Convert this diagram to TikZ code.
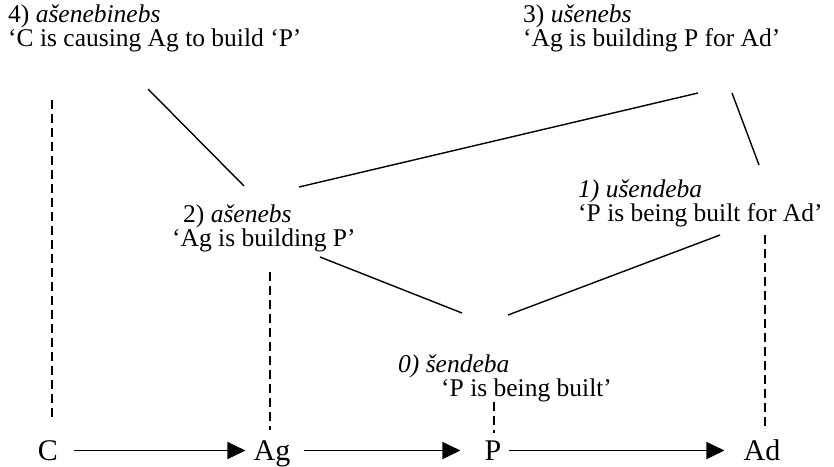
\documentclass[tikz,border=0pt]{standalone}
\usepackage{fontspec}
\setmainfont{Liberation Serif}[
  UprightFont={Liberation Serif},
  ItalicFont={Liberation Serif Italic},
  BoldFont={Liberation Serif Bold}]
\usetikzlibrary{arrows.meta}
\begin{document}
\begin{tikzpicture}[x=1pt,y=-1pt,
  every node/.style={inner sep=0pt},
  block/.style={anchor=north west,align=left,font=\fontsize{25.5}{24}\selectfont},
  role/.style={anchor=base,text height=19pt,text depth=0pt,font=\fontsize{30}{30}\selectfont},
  link/.style={line width=1.4pt},
  trace/.style={line width=1.2pt,dash pattern=on 9pt off 5pt},
  flow/.style={line width=1.4pt,-{Triangle[length=18pt,width=17pt]}}]
\useasboundingbox (0,0) rectangle (834,466);

% verb forms
\node[block] (v4) at (8,5) {4) \textit{ašenebinebs}\\‘C is causing Ag to build ‘P’};
\node[block] (v3) at (523,5) {3) \textit{ušenebs}\\‘Ag is building P for Ad’};
\node[block] (v2) at (172,205) {\hspace*{11pt}2) \textit{ašenebs}\\‘Ag is building P’};
\node[block] (v1) at (578,180) {\textit{1) ušendeba}\\‘P is being built for Ad’};
\node[block] (v0) at (398,355) {\textit{0) šendeba}\\\hspace*{43pt}‘P is being built’};

% participants
\node[role] (C)  at (48,460)  {C};
\node[role] (Ag) at (272,460) {Ag};
\node[role] (P)  at (493,460) {P};
\node[role] (Ad) at (762,460) {Ad};

% end points of the derivation links
\coordinate (v4-s) at (148,89);
\coordinate (v2-n) at (244,186);
\coordinate (v2-e) at (299,187);
\coordinate (v3-w) at (698,93);
\coordinate (v3-s) at (732,93);
\coordinate (v1-n) at (759,165);
\coordinate (v2-s) at (320,257);
\coordinate (v0-w) at (462,313);
\coordinate (v0-e) at (508,315);
\coordinate (v1-s) at (720,235);

\draw[link] (v4-s) -- (v2-n);
\draw[link] (v2-e) -- (v3-w);
\draw[link] (v3-s) -- (v1-n);
\draw[link] (v2-s) -- (v0-w);
\draw[link] (v0-e) -- (v1-s);

% vertical traces down to the participants
\coordinate (C-t)  at (52,100);
\coordinate (Ag-t) at (270,272);
\coordinate (P-t)  at (494,402);
\coordinate (Ad-t) at (765,235);
\draw[trace] (C-t)  -- (C-t |- 0,418);
\draw[trace] (Ag-t) -- (Ag-t |- 0,430);
\draw[trace] (P-t)  -- (P-t |- 0,433);
\draw[trace] (Ad-t) -- (Ad-t |- 0,431);

% causal chain
\draw[flow,shorten <=16pt,shorten >=8pt] (C.east) -- (Ag.west);
\draw[flow,shorten <=13pt,shorten >=24pt] (Ag.east) -- (P.west);
\draw[flow,shorten <=7pt,shorten >=19pt] (P.east) -- (Ad.west);
\end{tikzpicture}
\end{document}
